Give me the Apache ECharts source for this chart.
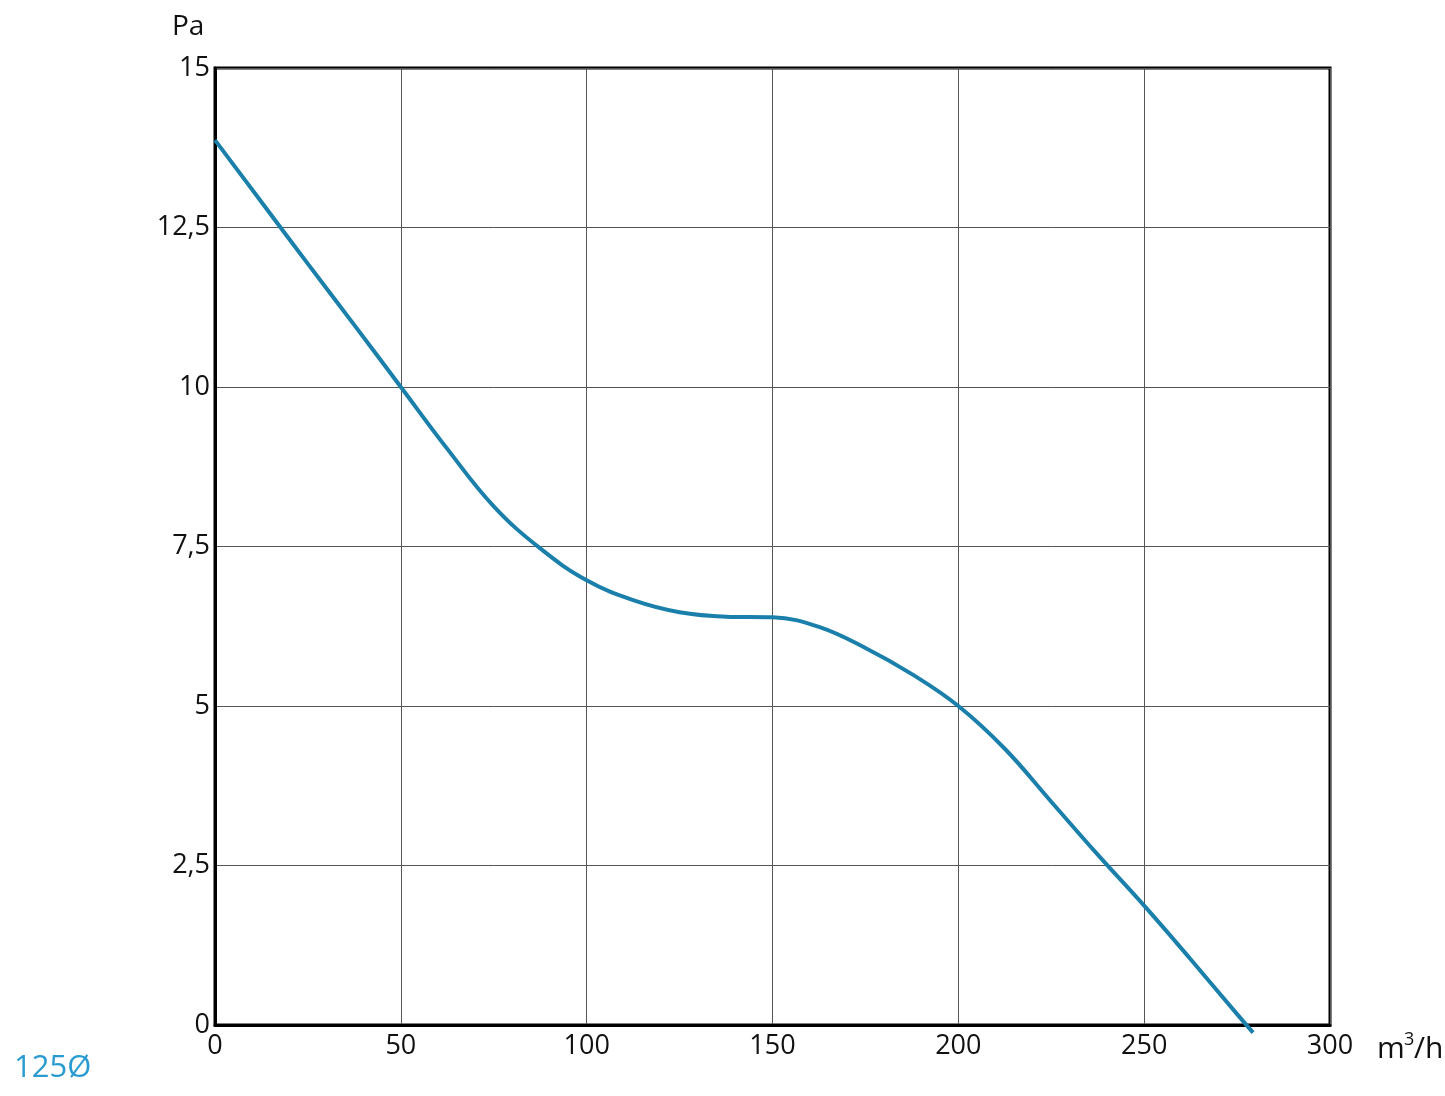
<!DOCTYPE html>
<html>
<head>
<meta charset="utf-8">
<script src="https://cdn.jsdelivr.net/npm/echarts@6/dist/echarts.min.js"></script>
<style>
html,body{margin:0;padding:0;background:#fff;}
#chart{width:1445px;height:1096px;}
</style>
</head>
<body>
<div id="chart"></div>
<script>
// Airflow (m³/h) vs pressure (Pa) for fan 125Ø
const flow = [0, 12.5, 25, 37.5, 50, 62.5, 75, 87.5, 100, 112.5, 125, 137.5, 150, 162.5, 175, 187.5, 200, 212.5, 225, 237.5, 250, 262.5, 275, 279.3];
const pressure = [13.87, 12.9, 11.93, 10.97, 10.0, 9.03, 8.13, 7.47, 6.97, 6.66, 6.47, 6.4, 6.39, 6.24, 5.91, 5.5, 5.0, 4.33, 3.5, 2.67, 1.87, 1.03, 0.17, -0.12];
const xTicks = [0, 50, 100, 150, 200, 250, 300];
const yTicks = [0, 2.5, 5, 7.5, 10, 12.5, 15];

const FONT = 'Open Sans';
const chart = echarts.init(document.getElementById('chart'));
const seriesData = flow.map((x, i) => [x, pressure[i]]);

chart.setOption({
  animation: false,
  backgroundColor: '#ffffff',
  grid: {
    left: 215, right: 115, top: 68, bottom: 71,
    show: true, borderColor: '#000', borderWidth: 3, backgroundColor: 'transparent'
  },
  xAxis: {
    type: 'value', min: xTicks[0], max: xTicks[xTicks.length - 1], interval: 50,
    axisLine: {show: true, onZero: false, lineStyle: {color: '#000', width: 3}},
    axisTick: {show: false},
    splitLine: {show: true, lineStyle: {color: '#555', width: 1}},
    axisLabel: {color: '#111', fontSize: 27, fontFamily: FONT, margin: 8}
  },
  yAxis: {
    type: 'value', min: yTicks[0], max: yTicks[yTicks.length - 1], interval: 2.5,
    axisLine: {show: true, lineStyle: {color: '#000', width: 3}},
    axisTick: {show: false},
    splitLine: {show: true, lineStyle: {color: '#555', width: 1}},
    axisLabel: {
      color: '#111', fontSize: 27, fontFamily: FONT, margin: 5,
      formatter: v => String(v).replace('.', ','),
      verticalAlign: 'middle'
    }
  },
  graphic: [
    {type: 'text', left: 172, top: 13, style: {text: 'Pa', font: '28px "Open Sans"', fill: '#111'}},
    {type: 'text', left: 1377, top: 1034, style: {text: 'm', font: '30px "Open Sans"', fill: '#111'}},
    {type: 'text', left: 1404, top: 1031, style: {text: '3', font: '18px "Open Sans"', fill: '#111'}},
    {type: 'text', left: 1414, top: 1034, style: {text: '/h', font: '30px "Open Sans"', fill: '#111'}},
    {type: 'text', left: 14, top: 1053, style: {text: '125Ø', font: '31px "Open Sans"', fill: '#2a9bd0'}}
  ],
  series: [{
    type: 'line',
    data: seriesData,
    smooth: 0.4,
    symbol: 'none',
    clip: false,
    lineStyle: {color: '#1a80ab', width: 4}
  }]
});
</script>
</body>
</html>
